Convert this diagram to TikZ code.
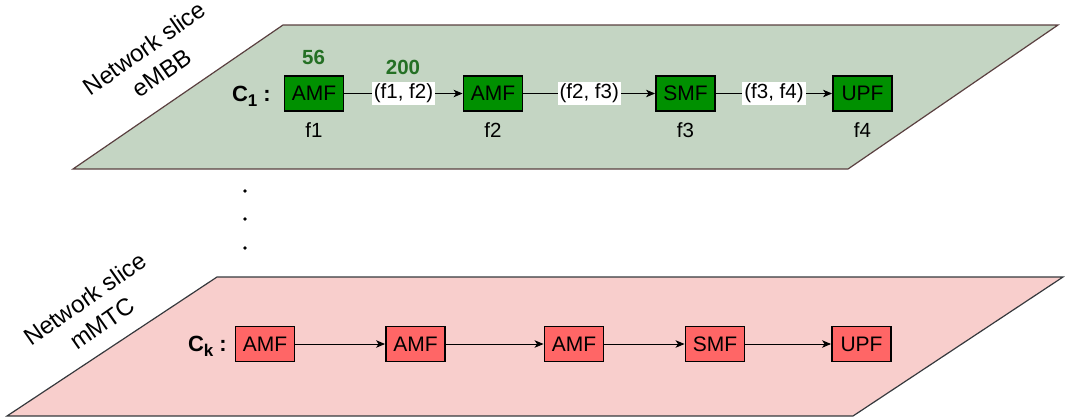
\documentclass[tikz,border=0pt]{standalone}
\usepackage{fontspec}
\setmainfont{Liberation Sans}
\usetikzlibrary{arrows.meta}
\definecolor{planeG}{HTML}{C4D5C3}
\definecolor{planeGline}{HTML}{5A4040}
\definecolor{planeR}{HTML}{F8CECC}
\definecolor{planeRline}{HTML}{36393D}
\definecolor{boxG}{HTML}{009000}
\definecolor{boxR}{HTML}{FF6666}
\definecolor{numG}{HTML}{257025}
\newcommand{\mysubidx}[1]{\raisebox{-5pt}{\fontsize{17}{17}\selectfont #1}}
\tikzset{
  nf/.style={draw=black, line width=1.9pt, minimum width=59pt, minimum height=35pt,
    inner sep=0pt, font=\fontsize{21}{24}\selectfont},
  gbox/.style={nf, fill=boxG},
  rbox/.style={nf, fill=boxR},
  lbl/.style={font=\fontsize{20.5}{24}\selectfont, inner sep=0pt},
  elbl/.style={fill=white, inner xsep=2pt, inner ysep=2.3pt, font=\fontsize{20.5}{24}\selectfont},
  gnum/.style={font=\fontsize{20.5}{24}\selectfont\bfseries, text=numG, inner sep=0pt},
  clbl/.style={font=\fontsize{22}{24}\selectfont\bfseries, inner sep=0pt},
  slbl/.style={font=\fontsize{24}{30}\selectfont, align=center, rotate=35, inner sep=0pt},
  arr/.style={-{Stealth[length=9pt,width=7.5pt,inset=2.5pt]}, line width=0.9pt},
}
\begin{document}
\begin{tikzpicture}[x=1pt,y=-1pt]
\useasboundingbox (0,0) rectangle (1065,418);
% planes
\filldraw[fill=planeG, draw=planeGline, line width=1.2pt]
  (283,25) -- (1058,25) -- (848,169) -- (73,169) -- cycle;
\filldraw[fill=planeR, draw=planeRline, line width=1.2pt]
  (217,277) -- (1063,277) -- (853,416) -- (7,416) -- cycle;
% slice labels
\node[slbl] (s1) at (153,60.5) {Network slice\\eMBB};
\node[slbl] (sk) at (93.5,311) {Network slice\\mMTC};
% top chain
\node[clbl, anchor=base east] (c1) at (271,101) {C\mysubidx{1} :};
\node[gbox] (g1) at (314,93.5) {AMF};
\node[gbox] (g2) at (493,93.5) {AMF};
\node[gbox] (g3) at (685.5,93.5) {SMF};
\node[gbox] (g4) at (862.5,93.5) {UPF};
\node[lbl] (f1) at (314,130) {f1};
\node[lbl] (f2) at (493,130) {f2};
\node[lbl] (f3) at (685.5,130) {f3};
\node[lbl] (f4) at (862.5,130) {f4};
\node[gnum] (n56) at (313.5,57) {56};
\node[gnum] (n200) at (403,67) {200};
\draw[arr] (g1) -- node[elbl] (e12) {(f1, f2)} (g2);
\draw[arr] (g2) -- node[elbl] (e23) {(f2, f3)} (g3);
\draw[arr] (g3) -- node[elbl] (e34) {(f3, f4)} (g4);
% dots
\fill (245,191) circle (1.9);
\fill (245,219) circle (1.9);
\fill (245,248) circle (1.9);
% bottom chain
\node[clbl, anchor=base east] (ck) at (227,351) {C\mysubidx{k} :};
\node[rbox] (r1) at (265,344) {AMF};
\node[rbox] (r2) at (415.5,344) {AMF};
\node[rbox] (r3) at (574,344) {AMF};
\node[rbox] (r4) at (715,344) {SMF};
\node[rbox] (r5) at (861.5,344) {UPF};
\draw[arr] (r1) -- (r2);
\draw[arr] (r2) -- (r3);
\draw[arr] (r3) -- (r4);
\draw[arr] (r4) -- (r5);
\end{tikzpicture}
\end{document}
